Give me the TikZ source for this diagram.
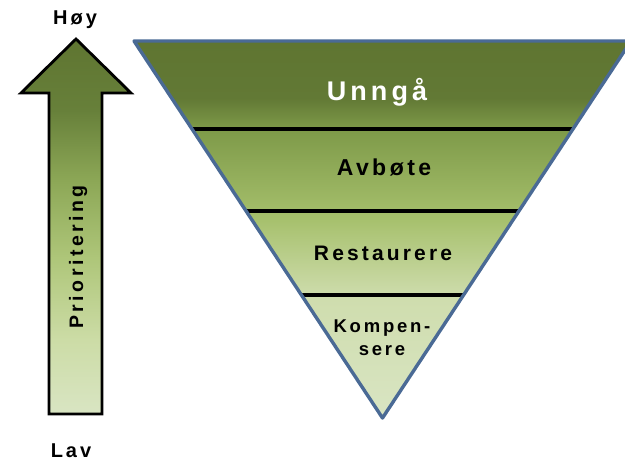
\documentclass[tikz,border=0pt]{standalone}
\usepackage{fontspec}
\setmainfont{Liberation Sans}
\newfontfamily\spacedfont[LetterSpace=15]{Liberation Sans}
\newfontfamily\widefont[LetterSpace=18]{Liberation Sans}
\usetikzlibrary{calc}
\definecolor{BorderColor}{HTML}{4A6A95}
\definecolor{OliveDark}{HTML}{5F7531}
\definecolor{OliveLight}{HTML}{D9E5C3}
\definecolor{tri1}{HTML}{CFDDAE}
\definecolor{tri2}{HTML}{A6C06C}
\definecolor{tri3}{HTML}{7D9948}
\definecolor{tri4}{HTML}{627935}
\definecolor{arr1}{HTML}{CCDCA6}
\definecolor{arr2}{HTML}{AEC679}
\definecolor{arr3}{HTML}{8CA756}
\definecolor{arr4}{HTML}{67803A}
\pgfdeclareverticalshading{trishade}{100bp}{
    color(0bp)=(OliveLight);
    color(25bp)=(OliveLight);
    color(40.9bp)=(tri1);
    color(51.5bp)=(tri2);
    color(63.5bp)=(tri3);
    color(67.4bp)=(tri4);
    color(75bp)=(OliveDark);
    color(100bp)=(OliveDark)}
\pgfdeclareverticalshading{arrowshade}{100bp}{
    color(0bp)=(OliveLight);
    color(25bp)=(OliveLight);
    color(34.9bp)=(arr1);
    color(45.8bp)=(arr2);
    color(56.2bp)=(arr3);
    color(65.5bp)=(arr4);
    color(75bp)=(OliveDark);
    color(100bp)=(OliveDark)}
\tikzstyle{level_label}=[inner sep=0pt, anchor=base]
\tikzstyle{level_line}=[draw=black, line width=3.8pt]
\tikzstyle{tri_border}=[draw=BorderColor, line width=3.4pt, line join=round]
\tikzstyle{axis_label}=[inner sep=0pt, anchor=base, font=\spacedfont\bfseries\fontsize{20}{22}\selectfont]

\begin{document}
\begin{tikzpicture}[x=1pt, y=-1pt]
    \useasboundingbox (0,0) rectangle (625,462);
    % ---------------------------------------------------------------------------------------------------------
    %  Pil: prioritering
    \shade[shading=arrowshade, draw=black, line width=2.8pt, line join=miter]
        (49,414) -- (49,93) -- (21,93) -- (76,39) -- (131,93) -- (102,93) -- (102,414) -- cycle;
    \node at (83,257) (Prio) [inner sep=0pt, anchor=base, rotate=90, font=\widefont\bfseries\fontsize{19.5}{22}\selectfont] {Prioritering};
    \node at (75,25) (Hoy) [axis_label] {Høy};
    \node at (71,458) (Lav) [axis_label] {Lav};

    % ---------------------------------------------------------------------------------------------------------
    %  Trekant
    \coordinate (TL) at (134,41);
    \coordinate (TR) at (631,41);
    \coordinate (Tip) at (382.5,418);
    \shade[shading=trishade] (TL) -- (TR) -- (Tip) -- cycle;

    \coordinate (A1) at ($(TL)!0.2334!(Tip)$);
    \coordinate (B1) at ($(TR)!0.2334!(Tip)$);
    \coordinate (A2) at ($(TL)!0.4509!(Tip)$);
    \coordinate (B2) at ($(TR)!0.4509!(Tip)$);
    \coordinate (A3) at ($(TL)!0.6737!(Tip)$);
    \coordinate (B3) at ($(TR)!0.6737!(Tip)$);
    \draw[level_line] (A1) -- (B1);
    \draw[level_line] (A2) -- (B2);
    \draw[level_line] (A3) -- (B3);
    \draw[tri_border] (TL) -- (TR) -- (Tip) -- cycle;

    \node at (377,101) (L0) [level_label, text=white, font=\spacedfont\bfseries\fontsize{27}{30}\selectfont] {Unngå};
    \node at (384,176) (L1) [level_label, font=\spacedfont\bfseries\fontsize{23}{25}\selectfont] {Avbøte};
    \node at (383,261) (L2) [level_label, font=\spacedfont\bfseries\fontsize{21}{24}\selectfont] {Restaurere};
    \node at (382,356) (L3) [level_label, align=center, font=\spacedfont\bfseries\fontsize{18.5}{23}\selectfont] {Kompen-\\sere};
\end{tikzpicture}
\end{document}
